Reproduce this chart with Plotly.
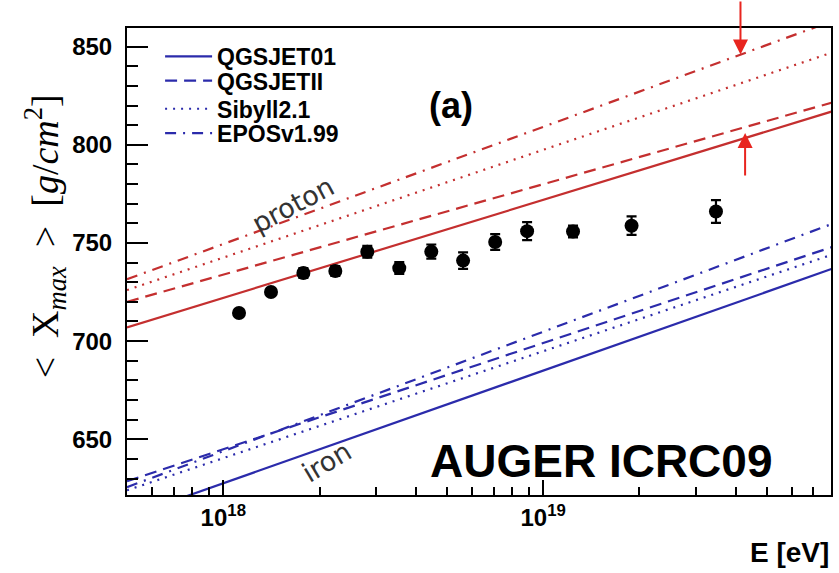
import numpy as np
import plotly.graph_objects as go

# ---------------- data ----------------
energy_eV = [1.12e18, 1.41e18, 1.78e18, 2.24e18, 2.82e18, 3.55e18, 4.47e18,
             5.62e18, 7.08e18, 8.91e18, 1.24e19, 1.89e19, 3.47e19]
xmax_mean = [714.3, 725.0, 734.7, 735.7, 745.5, 737.2, 745.6,
             741.0, 750.5, 756.0, 755.8, 758.8, 766.0]
xmax_err = [2.0, 2.0, 2.5, 2.5, 3.0, 3.0, 3.6, 4.2, 4.0, 4.6, 3.0, 4.7, 5.8]

model_names = ["QGSJET01", "QGSJETII", "Sibyll2.1", "EPOSv1.99"]
line_energy = [5e17, 8e19]
proton_start = [707.0, 720.0, 726.0, 731.5]
proton_end = [817.0, 821.5, 847.0, 863.0]
iron_start = [610.3, 628.6, 624.0, 625.6]
iron_end = [736.8, 747.9, 744.0, 759.7]

arrow_energy = [4.14e19, 4.28e19]
arrow_xmax = [846.0, 806.0]

major_x_ticks = [1e18, 1e19]
major_x_labels = ["10<sup>18</sup>", "10<sup>19</sup>"]
minor_digits = [2, 3, 4, 5, 6, 7, 8, 9]
minor_decades = [1e17, 1e18, 1e19]

# ---------------- styles ----------------
RED = "#c42f2f"
BLUE = "#2b2bab"
ARROW = "#e8251f"
dashes = ["solid", "12px,7px", "2px,6px", "11px,7px,2px,7px"]
SANS = "Liberation Sans, Arial, sans-serif"
legend_rows_y = [0.939, 0.887, 0.827, 0.775]
legend_ids = ["legend", "legend2", "legend3", "legend4"]

fig = go.Figure()

for i, name in enumerate(model_names):
    fig.add_trace(go.Scatter(
        x=line_energy, y=[proton_start[i], proton_end[i]], mode="lines",
        line=dict(color=RED, width=2.2, dash=dashes[i]),
        showlegend=False, hoverinfo="skip"))
    fig.add_trace(go.Scatter(
        x=line_energy, y=[iron_start[i], iron_end[i]], mode="lines",
        line=dict(color=BLUE, width=2.2, dash=dashes[i]),
        name=name, showlegend=True, legend=legend_ids[i], hoverinfo="skip"))

fig.add_trace(go.Scatter(
    x=energy_eV, y=xmax_mean, mode="markers",
    marker=dict(color="black", size=14, symbol="circle"),
    error_y=dict(type="data", array=xmax_err, color="black", thickness=2.2, width=5),
    showlegend=False))

layout_legends = {}
for i, lid in enumerate(legend_ids):
    layout_legends[lid] = dict(
        x=0.047, y=legend_rows_y[i], xanchor="left", yanchor="middle",
        bgcolor="rgba(0,0,0,0)", borderwidth=0, itemwidth=47,
        font=dict(family=SANS, size=23, color="black", weight="bold"),
        tracegroupgap=0)

def txt(text, x, y, size, family=SANS, weight="normal", color="black", angle=0,
        xanchor="center", yanchor="middle"):
    return dict(text=text, x=x, y=y, xref="paper", yref="paper", textangle=angle,
                xanchor=xanchor, yanchor=yanchor, showarrow=False,
                font=dict(family=family, size=size, color=color, weight=weight))

annotations = [
    txt("(a)", (452 - 127) / 706, 0.835, 36, weight="bold"),
    txt("proton", 0.2365, 0.621, 27, family="DejaVu Sans", color="#333333", angle=-28),
    txt("iron", 0.2847, 0.0707, 27, family="DejaVu Sans", color="#333333", angle=-31),
    txt("AUGER ICRC09", 0.674, 0.0728, 46, weight="bold"),
    txt("E [eV]", 1.0, -0.124, 28, weight="bold", xanchor="right"),
    txt("&lt;\u2002X<sub><i>max</i></sub>\u2002&gt;\u2002[<i>g</i>/<i>cm</i><sup>2</sup>]",
        -0.116, 0.5546, 38, family="Liberation Serif, Times New Roman, serif", angle=-90),
]

# arrows
annotations.append(dict(x=np.log10(arrow_energy[0]), y=arrow_xmax[0], xref="x", yref="y",
                        text="", showarrow=True, ax=0, ay=-56, arrowhead=2, arrowsize=1.5,
                        arrowwidth=2, arrowcolor=ARROW, standoff=0))
annotations.append(dict(x=np.log10(arrow_energy[1]), y=arrow_xmax[1], xref="x", yref="y",
                        text="", showarrow=True, ax=0, ay=44, arrowhead=2, arrowsize=1.5,
                        arrowwidth=2, arrowcolor=ARROW, standoff=0))

fig.update_layout(
    width=839, height=573,
    margin=dict(l=127, r=6, t=28, b=78),
    paper_bgcolor="white", plot_bgcolor="white",
    annotations=annotations,
    **layout_legends,
)

minor_x_vals = [d * dec for dec in minor_decades for d in minor_digits]

fig.update_xaxes(
    type="log", range=[np.log10(5e17), 19.9],
    tickmode="array", tickvals=major_x_ticks, ticktext=major_x_labels,
    ticks="inside", ticklen=15, tickwidth=2, tickcolor="black",
    minor=dict(ticks="inside", ticklen=8, tickwidth=2, tickcolor="black",
               tickmode="array", tickvals=minor_x_vals, showgrid=False),
    showline=True, linewidth=2, linecolor="black", mirror=True,
    showgrid=False, zeroline=False,
    tickfont=dict(family=SANS, size=24, color="black", weight="bold"),
)
fig.update_yaxes(
    range=[621.6, 859.5],
    tickmode="linear", tick0=0, dtick=50,
    ticks="inside", ticklen=21, tickwidth=2, tickcolor="black",
    minor=dict(ticks="inside", ticklen=11, tickwidth=2, tickcolor="black", dtick=10, showgrid=False),
    showline=True, linewidth=2, linecolor="black", mirror=True,
    showgrid=False, zeroline=False, ticklabelstandoff=8,
    tickfont=dict(family=SANS, size=24, color="black", weight="bold"),
)

fig.write_html("out.html")
